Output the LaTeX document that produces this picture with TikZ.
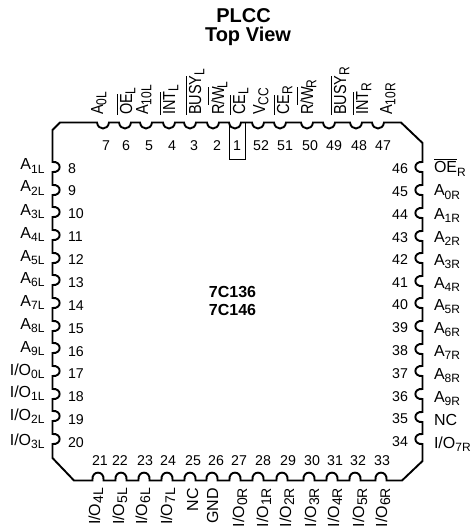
\documentclass[tikz,border=0pt]{standalone}
\usepackage{fontspec}
\setmainfont{Liberation Sans}
\def\subpt{12pt}
\newcommand{\pinsub}[1]{\raisebox{-0.2em}{\fontsize{\subpt}{\subpt}\selectfont #1}}
\newcommand{\obar}[1]{\vbox{\hrule height 1pt\kern 1.6pt\hbox{#1}}}
\newcommand{\nt}[1]{\kern-0.15em\pinsub{#1}}
\tikzset{
  every node/.style={inner sep=0pt, outer sep=0pt},
  numtxt/.style={font=\fontsize{14.2pt}{14pt}\selectfont},
  titletxt/.style={font=\fontsize{20pt}{20pt}\selectfont\bfseries},
  boldtxt/.style={font=\fontsize{16pt}{16pt}\selectfont\bfseries},
  uplabel/.style={rotate=90, anchor=base west, font=\fontsize{14.5pt}{14pt}\selectfont\def\subpt{12pt}},
  dnlabel/.style={rotate=90, anchor=base east, font=\fontsize{16pt}{16pt}\selectfont\def\subpt{14pt}},
  leftlabel/.style={anchor=base east, font=\fontsize{16pt}{16pt}\selectfont},
  rightlabel/.style={anchor=base west, font=\fontsize{16pt}{16pt}\selectfont},
  body/.style={line width=1.9pt, line join=miter}
}
\begin{document}
\begin{tikzpicture}[x=1pt,y=-1pt]
\useasboundingbox (0,0) rectangle (472,529);
% outline
\def\tnotch#1{-- (#1-6,122.5) .. controls (#1-5,130.5) and (#1+5,130.5) .. (#1+6,122.5)}
\def\bnotch#1{-- (#1+5.5,480.5) .. controls (#1+7,470) and (#1-7,470) .. (#1-5.5,480.5)}
\def\lnotch#1{-- (52.5,#1+5) .. controls (62,#1+6) and (62,#1-6) .. (52.5,#1-5)}
\def\rnotch#1{-- (422.5,#1-5) .. controls (413,#1-6) and (413,#1+6) .. (422.5,#1+5)}
\draw[body] (60,122.5)
  \tnotch{103}\tnotch{125}\tnotch{146}\tnotch{169}\tnotch{190}\tnotch{213}\tnotch{235}\tnotch{258}\tnotch{280}\tnotch{307}\tnotch{329}\tnotch{356}\tnotch{378}
  -- (401,122.5) -- (422.5,143)
  \rnotch{167}\rnotch{190}\rnotch{213}\rnotch{236}\rnotch{258}\rnotch{281}\rnotch{303}\rnotch{326}\rnotch{349}\rnotch{371}\rnotch{394}\rnotch{417}\rnotch{439}
  -- (422.5,461) -- (402,480.5)
  \bnotch{381}\bnotch{355}\bnotch{332}\bnotch{309}\bnotch{282}\bnotch{258}\bnotch{235}\bnotch{212}\bnotch{190}\bnotch{167}\bnotch{144}\bnotch{121}\bnotch{98}
  -- (74,480.5) -- (52.5,458)
  \lnotch{439}\lnotch{416}\lnotch{394}\lnotch{371}\lnotch{348}\lnotch{326}\lnotch{303}\lnotch{280}\lnotch{258}\lnotch{235}\lnotch{212}\lnotch{190}\lnotch{167}
  -- (52.5,130) -- cycle;
% pin 1 box
\draw[line width=0.6pt] (229.5,123) -- (229.5,159) -- (245,159) -- (245,123);
% title
\node[titletxt] (t1) at (243.5,16) {PLCC};
\node[titletxt] (t2) at (248,36) {Top View};
\node[boldtxt] (c1) at (232.5,292) {7C136};
\node[boldtxt] (c2) at (232.5,310) {7C146};
% top numbers
\foreach \n/\x in {7/106,6/126,5/149,4/172,3/194,2/217,1/237,52/261,51/285,50/310,49/334,48/359,47/383}
  \node[numtxt] (pn\n) at (\x,146) {\n};
% bottom numbers
\foreach \n/\x in {21/100,22/120,23/145,24/168,25/193,26/216,27/239,28/263,29/288,30/312,31/335,32/358,33/382}
  \node[numtxt] (pn\n) at (\x,461) {\n};
% left numbers
\foreach \n/\y in {8/169,9/191,10/214,11/237,12/260,13/283,14/306,15/329,16/352,17/374,18/397,19/420,20/443}
  \node[numtxt,anchor=west] (pn\n) at (68,\y) {\n};
% right numbers
\foreach \n/\y in {46/169,45/192,44/215,43/238,42/260,41/283,40/305,39/328,38/351,37/374,36/397,35/419,34/442}
  \node[numtxt,anchor=east] (pn\n) at (408,\y) {\n};
% left labels
\foreach \lab/\y/\nm in {{A\pinsub{1L}}/170/a,{A\pinsub{2L}}/192/b,{A\pinsub{3L}}/215/c,{A\pinsub{4L}}/238/d,{A\pinsub{5L}}/261/e,{A\pinsub{6L}}/283/f,{A\pinsub{7L}}/306/g,{A\pinsub{8L}}/329/h,{A\pinsub{9L}}/352/i,{I/O\pinsub{0L}}/375/j,{I/O\pinsub{1L}}/397/k,{I/O\pinsub{2L}}/420/l,{I/O\pinsub{3L}}/445/m}
  \node[leftlabel] (ll\nm) at (44.5,\y) {\lab};
% right labels
\foreach \lab/\y/\nm in {{\obar{OE}\pinsub{R}}/173/a,{A\pinsub{0R}}/196/b,{A\pinsub{1R}}/219/c,{A\pinsub{2R}}/242/d,{A\pinsub{3R}}/265/e,{A\pinsub{4R}}/288/f,{A\pinsub{5R}}/310/g,{A\pinsub{6R}}/333/h,{A\pinsub{7R}}/356/i,{A\pinsub{8R}}/379/j,{A\pinsub{9R}}/402/k,{NC}/425/l,{I/O\pinsub{7R}}/448/m}
  \node[rightlabel] (rl\nm) at (434,\y) {\lab};
% top labels
\foreach \lab/\x/\nm in {{A\pinsub{0L}}/103/a,{\obar{OE}\pinsub{L}}/132/b,{A\pinsub{10L}}/148/c,{\obar{INT}\pinsub{L}}/175/d,{\obar{BUSY}\pinsub{L}}/201/e,{R\obar{/W}\nt{L}}/224/f,{\obar{CE}\pinsub{L}}/245/g,{V\pinsub{CC}}/265/h,{\obar{CE}\pinsub{R}}/289/i,{R\obar{/W}\nt{R}}/313/j,{\obar{BUSY}\pinsub{R}}/346/k,{\obar{INT}\pinsub{R}}/368/l,{A\pinsub{10R}}/392/m}
  \node[uplabel] (tl\nm) at (\x,115) {\scalebox{1}[1.2]{\lab}};
% bottom labels
\foreach \lab/\x/\nm in {{I/O\pinsub{4L}}/100/a,{I/O\pinsub{5L}}/124/b,{I/O\pinsub{6L}}/147/c,{I/O\pinsub{7L}}/172/d,{NC}/198/e,{GND}/218/f,{I/O\pinsub{0R}}/244/g,{I/O\pinsub{1R}}/268/h,{I/O\pinsub{2R}}/291/i,{I/O\pinsub{3R}}/316/j,{I/O\pinsub{4R}}/339/k,{I/O\pinsub{5R}}/364/l,{I/O\pinsub{6R}}/387/m}
  \node[dnlabel] (bl\nm) at (\x,488) {\lab};
\end{tikzpicture}
\end{document}
